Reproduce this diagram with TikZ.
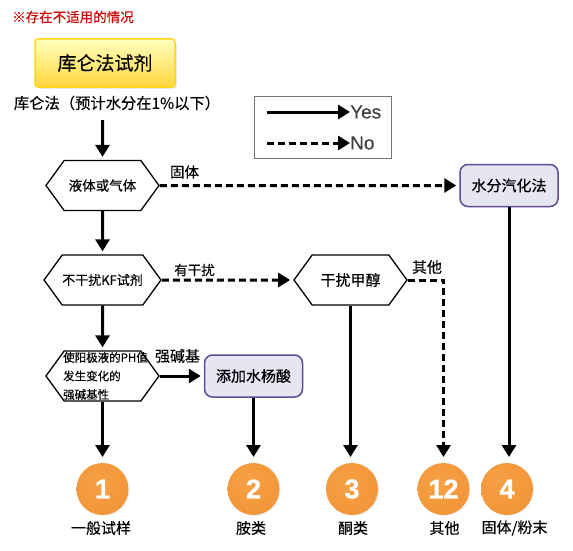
\documentclass[tikz,border=0pt]{standalone}
\usepackage{fontspec}
\setmainfont{Noto Sans CJK SC}[FakeBold=0.25]
\newfontfamily\latinfont{Liberation Sans}[FakeBold=0.3]
\newfontfamily\ballfont{Liberation Sans Bold}[FakeBold=1]
\usetikzlibrary{positioning, arrows.meta, shapes.symbols, shadows}

\definecolor{ballcore}{HTML}{F6A044}
\definecolor{ballmid}{HTML}{F2973A}
\definecolor{ballout}{HTML}{D98529}
\definecolor{ballrim}{HTML}{A9621A}
\definecolor{boxfill}{HTML}{E6E5F2}
\definecolor{boxline}{HTML}{5F4B96}

\pgfdeclareradialshading{orangeball}{\pgfpoint{-6bp}{8bp}}{
	color(0bp)=(ballcore);
	color(28bp)=(ballmid);
	color(46bp)=(ballout);
	color(60bp)=(ballrim);
	color(72bp)=(ballrim)
}

\tikzset{
	hexa/.style={signal, signal to=east and west, signal pointer angle=108,
		draw, line width=1.3pt, fill=white, minimum width=113pt, minimum height=50pt, inner sep=0pt, font=\fontsize{13.5}{16}\selectfont},
	purplebox/.style={draw=boxline, line width=1.5pt, fill=boxfill, rounded corners=8pt, minimum width=98pt, minimum height=42pt, inner sep=0pt, font=\fontsize{15}{18}\selectfont},
	ball/.style={circle, shading=orangeball, circular drop shadow={opacity=0.2,shadow xshift=1pt,shadow yshift=-1pt,shadow scale=1.03}, minimum size=52pt, inner sep=0pt, outer sep=3pt, text=white, font=\ballfont\fontsize{27}{30}\selectfont},
	lbl/.style={inner sep=0pt, font=\fontsize{15}{18}\selectfont},
	yes/.style={line width=3pt, shorten >=3pt, -{Triangle[length=12pt,width=14pt]}},
	no/.style={line width=3pt, shorten >=3pt, dash pattern=on 7pt off 4pt, -{Triangle[length=12pt,width=14pt]}}
}

\begin{document}
\begin{tikzpicture}[x=1pt,y=-1pt]
	\useasboundingbox (0,0) rectangle (573,551);

	% Encabezado
	\node[lbl,text=red!80!black,font=\fontsize{13.5}{16}\selectfont] (aviso) at (73,17) {※存在不适用的情况};
	\node[draw={rgb,255:red,255;green,214;blue,30}, line width=1.5pt, rounded corners=3pt, top color=yellow!25, bottom color={rgb,255:red,255;green,214;blue,60},
		minimum width=140pt, minimum height=48pt, font=\fontsize{19}{22}\selectfont, drop shadow={opacity=0.25,shadow xshift=1.5pt,shadow yshift=-1.5pt}] (titulo) at (105,63) {库仑法试剂};
	\node[lbl,font=\fontsize{15.3}{18}\selectfont] (metodo) at (117,103) {库仑法（预计水分在1\%以下）};

	% Leyenda
	\node[draw=black!55, minimum width=137pt, minimum height=62pt] (leyenda) at (322.5,127) {};
	\coordinate (yesini) at (267,112);
	\coordinate (noini) at (267,143);
	\node[lbl,anchor=west,text=black!75,font=\latinfont\fontsize{19}{22}\selectfont] (yestxt) at (350,112) {Yes};
	\node[lbl,anchor=west,text=black!75,font=\latinfont\fontsize{19}{22}\selectfont] (notxt) at (350,143) {No};
	\draw[yes,shorten >=0pt] (yesini) -- (yestxt);
	\draw[no,shorten >=0pt] (noini) -- (notxt);

	% Decisiones
	\node[hexa] (liquido) at (102.5,185.5) {液体或气体};
	\node[hexa,font=\fontsize{13}{16}\selectfont] (interf) at (102.5,280) {不干扰KF试剂};
	\node[hexa] (basico) at (102.5,376) {};
	\node[anchor=west,inner sep=0pt,align=left,font=\fontsize{11.5}{18.5}\selectfont] (basicotxt) at (63,376) {使阳极液的PH值\\发生变化的\\强碱基性};
	\node[hexa,font=\fontsize{15}{18}\selectfont] (metanol) at (350.5,280) {干扰甲醇};

	% Cajas
	\node[purplebox] (vapor) at (509,185.5) {水分汽化法};
	\node[purplebox] (salicilico) at (253.5,376) {添加水杨酸};

	% Resultados
	\foreach \nombre/\x/\xt/\num/\txt in {uno/102.5/101/1/一般试样, dos/253.5/251/2/胺类, tres/352/353/3/酮类, doce/443.5/444.5/12/其他, cuatro/507/514.5/4/{固体/粉末}} {
		\node[ball] (\nombre) at (\x,489) {\num};
		\node[lbl] (\nombre txt) at (\xt,528) {\txt};
	}

	% Flechas
	\coordinate (ini) at (102.5,120);
	\draw[yes] (ini) -- (liquido);
	\draw[yes] (liquido) -- (interf);
	\draw[yes] (interf) -- (basico);
	\draw[yes] (basico) -- (salicilico);
	\draw[yes] (basico) -- (uno);
	\draw[yes] (salicilico) -- (dos);
	\draw[yes] (metanol) -- (metanol |- tres.north);
	\draw[yes] (vapor) -- (vapor |- cuatro.north);
	\draw[no] (liquido) -- (vapor);
	\draw[no] (interf) -- (metanol);
	\draw[no] (metanol.east) -| (doce.north);

	% Etiquetas
	\node[lbl,font=\fontsize{14.5}{17}\selectfont] (solido) at (184.5,172) {固体};
	\node[lbl,font=\fontsize{13.5}{16}\selectfont] (conint) at (194.5,270) {有干扰};
	\node[lbl] (otros) at (427,267) {其他};
	\node[lbl] (fuerte) at (177.5,356) {强碱基};
\end{tikzpicture}
\end{document}
